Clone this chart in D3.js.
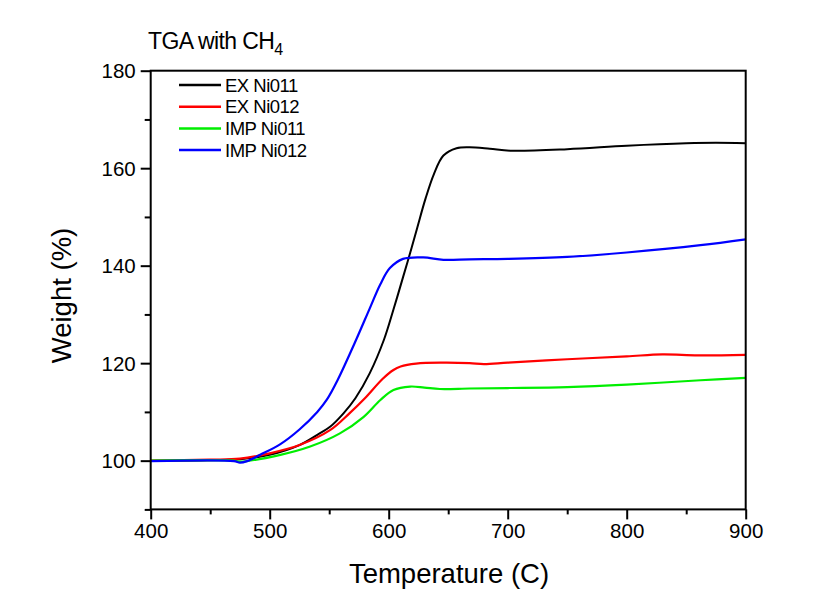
<!DOCTYPE html>
<html>
<head>
<meta charset="utf-8">
<script src="https://cdn.jsdelivr.net/npm/d3@7"></script>
<style>
  body { margin: 0; background: #fff; }
  svg { display: block; }
  text { font-family: Arial, "Liberation Sans", sans-serif; fill: #000; }
</style>
</head>
<body>
<svg id="chart" width="827" height="600"></svg>
<script>
// ---- data ----
const seriesNames = ["EX Ni011", "EX Ni012", "IMP Ni011", "IMP Ni012"];
const seriesColors = ["#000000", "#ff0000", "#00ee00", "#0000ff"];

const exNi011Temp   = [400, 450, 475, 500, 525, 540, 551, 562, 572, 584, 596, 604, 612, 618, 624, 631, 638, 646, 657, 668, 685, 702, 750, 800, 850, 875, 900];
const exNi011Weight = [100, 100.1, 100.3, 101.2, 103.2, 105.3, 107.0, 109.7, 112.8, 117.9, 124.8, 131.0, 137.6, 142.6, 147.8, 153.8, 158.8, 162.6, 164.1, 164.3, 164.0, 163.6, 163.9, 164.6, 165.1, 165.2, 165.1];

const exNi012Temp   = [400, 450, 475, 500, 525, 551, 567, 580, 595, 604, 610, 623, 645, 668, 680, 700, 750, 800, 830, 860, 900];
const exNi012Weight = [100, 100.2, 100.4, 101.5, 103.2, 106.3, 109.7, 112.8, 116.8, 118.6, 119.3, 119.9, 120.1, 120.0, 119.8, 120.1, 120.8, 121.4, 121.8, 121.6, 121.7];

const impNi011Temp   = [400, 470, 475, 509, 534, 559, 579, 593, 604, 618, 630, 643, 668, 700, 750, 800, 862, 900];
const impNi011Weight = [100, 100, 99.8, 101.2, 102.9, 105.6, 109.0, 112.45, 114.5, 115.2, 115.0, 114.7, 114.8, 114.9, 115.1, 115.6, 116.5, 117.0];

const impNi012Temp   = [400, 470, 475, 481, 492, 509, 525, 540, 548, 557, 573, 584, 593, 601, 612, 629, 646, 668, 700, 750, 800, 862, 900];
const impNi012Weight = [99.9, 99.9, 99.6, 99.9, 101.2, 103.4, 106.4, 110.0, 112.5, 116.5, 125.0, 131.2, 136.2, 139.5, 141.4, 141.7, 141.2, 141.3, 141.4, 141.8, 142.7, 144.2, 145.4];

const xTicks = [400, 500, 600, 700, 800, 900];
const xMinorTicks = [450, 550, 650, 750, 850];
const yTicks = [100, 120, 140, 160, 180];
const yMinorTicks = [90, 110, 130, 150, 170];

const seriesTemps = [exNi011Temp, exNi012Temp, impNi011Temp, impNi012Temp];
const seriesWeights = [exNi011Weight, exNi012Weight, impNi011Weight, impNi012Weight];

// ---- layout ----
const svg = d3.select("#chart");
const pLeft = 150.7, pRight = 745.7, pTop = 70.7, pBottom = 509.4;

const x = d3.scaleLinear().domain([400, 900]).range([pLeft, pRight]);
const y = d3.scaleLinear().domain([90, 180]).range([pBottom, pTop]);

// plot lines
const line = d3.line().x(d => x(d[0])).y(d => y(d[1])).curve(d3.curveCatmullRom.alpha(0.5));
const g = svg.append("g");
seriesNames.forEach((name, i) => {
  const pts = seriesTemps[i].map((t, k) => [t, seriesWeights[i][k]]);
  g.append("path")
    .datum(pts)
    .attr("d", line)
    .attr("fill", "none")
    .attr("stroke", seriesColors[i])
    .attr("stroke-width", i === 0 ? 2 : 2.2)
    .attr("stroke-linejoin", "round");
});

// frame
svg.append("rect")
  .attr("x", pLeft).attr("y", pTop)
  .attr("width", pRight - pLeft).attr("height", pBottom - pTop)
  .attr("fill", "none").attr("stroke", "#000").attr("stroke-width", 2);

// axes
const xAxis = svg.append("g").attr("transform", `translate(0,${pBottom})`)
  .call(d3.axisBottom(x).tickValues(xTicks).tickSize(10).tickSizeOuter(0).tickPadding(4).tickFormat(d3.format("d")));
const xMinor = svg.append("g").attr("transform", `translate(0,${pBottom})`)
  .call(d3.axisBottom(x).tickValues(xMinorTicks).tickSize(5).tickSizeOuter(0).tickFormat(""));
const yAxis = svg.append("g").attr("transform", `translate(${pLeft},0)`)
  .call(d3.axisLeft(y).tickValues(yTicks).tickSize(10).tickSizeOuter(0).tickPadding(5).tickFormat(d3.format("d")));
const yMinor = svg.append("g").attr("transform", `translate(${pLeft},0)`)
  .call(d3.axisLeft(y).tickValues(yMinorTicks).tickSize(6).tickSizeOuter(0).tickFormat(""));

[xAxis, xMinor, yAxis, yMinor].forEach(a => {
  a.select(".domain").remove();
  a.selectAll(".tick line").attr("stroke", "#000").attr("stroke-width", 2);
  a.selectAll("text").style("font-size", "20.5px").attr("font-family", "Arial, 'Liberation Sans', sans-serif");
});
yAxis.selectAll("text").attr("dy", "0.35em");

// title
const title = svg.append("text").attr("x", 148).attr("y", 48.5)
  .style("font-size", "23px").style("letter-spacing", "-0.6px");
title.append("tspan").text("TGA with CH");
title.append("tspan").text("4").attr("dy", 6.5).style("font-size", "16px");

// legend
const legendY0 = 85, legendDy = 21.7;
seriesNames.forEach((name, i) => {
  const ly = legendY0 + i * legendDy;
  svg.append("line")
    .attr("x1", 179).attr("x2", 221)
    .attr("y1", ly).attr("y2", ly)
    .attr("stroke", seriesColors[i]).attr("stroke-width", 2.5);
  svg.append("text")
    .attr("x", 225).attr("y", ly + 6.5)
    .style("font-size", "18.5px").style("letter-spacing", "-0.5px")
    .text(name);
});

// axis titles
svg.append("text")
  .attr("x", 449).attr("y", 583)
  .attr("text-anchor", "middle")
  .style("font-size", "27.5px")
  .text("Temperature (C)");

svg.append("text")
  .attr("transform", `translate(71,295.5) rotate(-90)`)
  .attr("text-anchor", "middle")
  .style("font-size", "27.5px")
  .text("Weight (%)");
</script>
</body>
</html>
